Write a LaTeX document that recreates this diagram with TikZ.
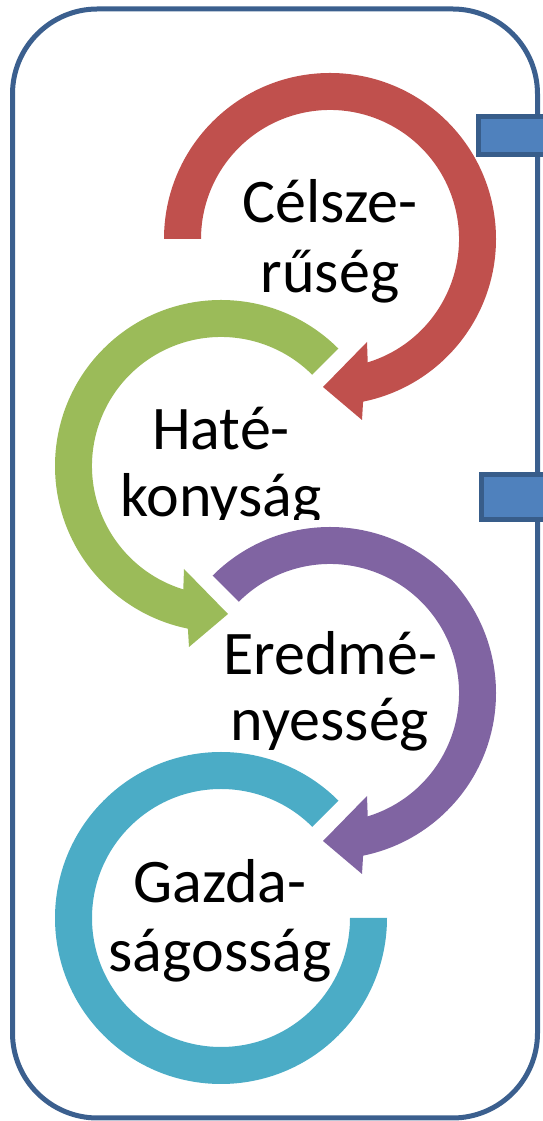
\documentclass[tikz,border=0pt]{standalone}
\usepackage{fontspec}
\setmainfont{Carlito}
\definecolor{framecol}{HTML}{3B5F8E}
\definecolor{boxfill}{HTML}{4F81BD}
\definecolor{boxline}{HTML}{385D8A}
\definecolor{ringred}{HTML}{C0504D}
\definecolor{ringgreen}{HTML}{9BBB59}
\definecolor{ringpurple}{HTML}{8064A2}
\definecolor{ringteal}{HTML}{4BACC6}
\tikzset{
  lbl/.style={font=\fontsize{62}{70}\selectfont, inner sep=0pt, anchor=base},
  tab/.style={fill=boxfill, draw=boxline, line width=5pt},
}
\begin{document}
\begin{tikzpicture}[x=1pt, y=1pt]
\useasboundingbox (0,0) rectangle (543,1121);

\draw[framecol, line width=5pt, rounded corners=85pt] (12.5,3) rectangle (537.5,1112);

\draw[tab] (478.5,1004.5) rectangle (560,966.5);
\draw[tab] (481.5,646.5) rectangle (560,601.5);

\coordinate (cr) at (330,882);
\coordinate (cg) at (221,655);
\coordinate (cp) at (330,428);
\coordinate (ct) at (221,203);

\fill[ringteal] ([shift={(ct)}]45:166) arc[start angle=45, end angle=360, radius=166]
  -- ([shift={(ct)}]0:129) arc[start angle=360, end angle=45, radius=129] -- cycle;

\fill[ringpurple] ([shift={(cp)}]135:166) arc[start angle=135, end angle=-78.5, radius=166]
  -- ([shift={(cp)}]32,-181) -- ([shift={(cp)}]-7,-148) -- ([shift={(cp)}]37,-103)
  -- ([shift={(cp)}]-73:129) arc[start angle=-73, end angle=135, radius=129] -- cycle;

\fill[ringgreen] ([shift={(cg)}]45:166) arc[start angle=45, end angle=258.5, radius=166]
  -- ([shift={(cg)}]-32,-181) -- ([shift={(cg)}]7,-148) -- ([shift={(cg)}]-37,-103)
  -- ([shift={(cg)}]253:129) arc[start angle=253, end angle=45, radius=129] -- cycle;

\fill[ringred] ([shift={(cr)}]180:166) arc[start angle=180, end angle=-78.5, radius=166]
  -- ([shift={(cr)}]32,-181) -- ([shift={(cr)}]-7,-148) -- ([shift={(cr)}]37,-103)
  -- ([shift={(cr)}]-73:129) arc[start angle=-73, end angle=180, radius=129] -- cycle;

\node[lbl] (cel1) at (330,898) {Célsze-};
\node[lbl] (cel2) at (330,828) {rűség};

\node[lbl] (hat1) at (221,671) {Haté-};
\begin{scope}
\clip (60,601) rectangle (400,700);
\node[lbl] (hat2) at (221,604) {konyság};
\end{scope}

\node[lbl] (ere1) at (330,446) {Eredmé-};
\node[lbl] (ere2) at (330,380) {nyesség};

\node[lbl] (gaz1) at (220,218) {Gazda-};
\node[lbl] (gaz2) at (220,149) {ságosság};
\end{tikzpicture}
\end{document}
